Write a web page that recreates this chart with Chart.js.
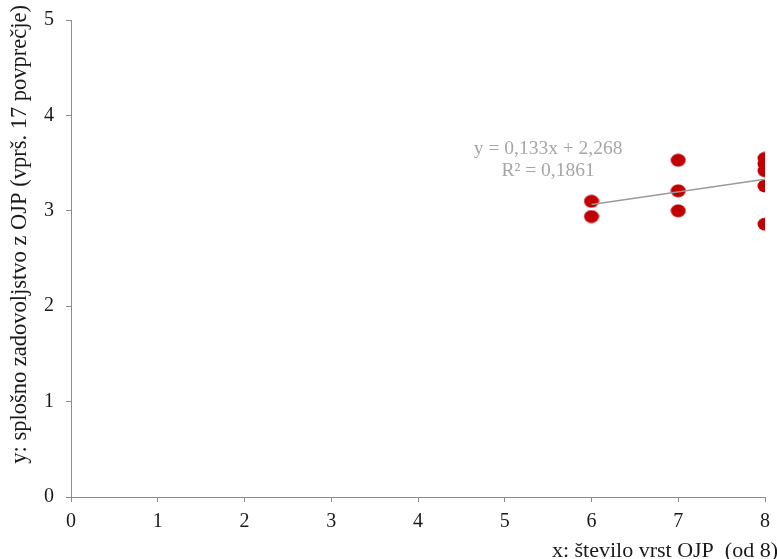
<!DOCTYPE html>
<html>
<head>
<meta charset="utf-8">
<script src="https://cdn.jsdelivr.net/npm/chart.js@4/dist/chart.umd.min.js"></script>
<style>
	body { margin: 0; background: #ffffff; }
	#wrap { width: 777px; height: 559px; }
</style>
</head>
<body>
<div id="wrap"><canvas id="scatterChart" width="777" height="559"></canvas></div>
<script>
// x: number of OJP types (of 8), y: overall satisfaction (avg. of q.17)
const xValues = [6, 6, 7, 7, 7, 8, 8, 8, 8, 8];
const yValues = [3.10, 2.94, 3.53, 3.21, 3.00, 3.55, 3.49, 3.42, 3.26, 2.86];

// linear trend line endpoints (y = 0,133x + 2,268)
const trendX = [6, 8];
const trendY = [3.066, 3.332];

const xTitle = 'x: število vrst OJP  (od 8)';
const yTitle = 'y: splošno zadovoljstvo z OJP (vprš. 17 povprečje)';
const trendLabel = ['y = 0,133x + 2,268', 'R² = 0,1861'];

const axisGray = '#8c8c8c';
const serif = '"Liberation Serif", "DejaVu Serif", serif';

let ctx = document.getElementById('scatterChart').getContext('2d');

// slightly wide oval marker, like the original
let dot = document.createElement('canvas');
dot.width = 16;
dot.height = 14;
let dctx = dot.getContext('2d');
dctx.fillStyle = '#c00000';
dctx.beginPath();
dctx.ellipse(8, 7, 7.5, 6.4, 0, 0, Math.PI * 2);
dctx.fill();

// titles and trend label drawn on the canvas
const textPlugin = {
	id: 'textPlugin',
	afterDraw(chart) {
		let c = chart.ctx;
		let xs = chart.scales.x;
		let ys = chart.scales.y;
		c.save();
		c.fillStyle = '#1a1a1a';
		c.font = '22px ' + serif;
		// x title, right aligned at the bottom
		c.textAlign = 'right';
		c.textBaseline = 'alphabetic';
		c.fillText(xTitle, 778, 557);
		// y title, rotated, starting at the top
		c.font = '22.5px ' + serif;
		c.translate(26, 5);
		c.rotate(-Math.PI / 2);
		c.textAlign = 'right';
		c.textBaseline = 'alphabetic';
		c.fillText(yTitle, 0, 0);
		c.restore();

		// trend line equation
		c.save();
		c.fillStyle = '#a6a6a6';
		c.font = '19.5px ' + serif;
		c.textAlign = 'center';
		c.textBaseline = 'middle';
		let cx = xs.getPixelForValue(5.5);
		c.fillText(trendLabel[0], cx, ys.getPixelForValue(3.65));
		c.fillText(trendLabel[1], cx, ys.getPixelForValue(3.42));
		c.restore();
	}
};

let points = xValues.map((x, i) => ({ x: x, y: yValues[i] }));
let trend = trendX.map((x, i) => ({ x: x, y: trendY[i] }));

let scatterChart = new Chart(ctx, {
	type: 'scatter',
	data: {
		datasets: [
			{
				label: 'trend',
				data: trend,
				showLine: true,
				borderColor: '#9a9a9a',
				borderWidth: 1.5,
				pointRadius: 0,
				fill: false
			},
			{
				label: 'OJP',
				data: points,
				pointStyle: dot,
				backgroundColor: '#c00000',
				borderColor: '#c00000',
				pointRadius: 8,
				pointHoverRadius: 8
			}
		]
	},
	options: {
		responsive: false,
		animation: false,
		layout: {
			padding: { top: 20, right: 12, left: 0, bottom: 0 }
		},
		plugins: {
			legend: { display: false },
			tooltip: { enabled: false }
		},
		scales: {
			x: {
				type: 'linear',
				min: 0,
				max: 8,
				afterFit: (scale) => {
					scale.height = 62;
					scale.paddingLeft = 0;
					scale.paddingRight = 0;
				},
				ticks: {
					stepSize: 1,
					padding: 8,
					color: '#1a1a1a',
					font: { family: serif, size: 20 }
				},
				grid: {
					drawOnChartArea: false,
					drawTicks: true,
					tickLength: 5,
					color: axisGray
				},
				border: { display: true, color: axisGray, width: 1 }
			},
			y: {
				min: 0,
				max: 5,
				afterFit: (scale) => {
					scale.width = 71;
					scale.paddingTop = 0;
					scale.paddingBottom = 0;
				},
				ticks: {
					stepSize: 1,
					padding: 12,
					color: '#1a1a1a',
					font: { family: serif, size: 20 }
				},
				grid: {
					drawOnChartArea: false,
					drawTicks: true,
					tickLength: 5,
					color: axisGray
				},
				border: { display: true, color: axisGray, width: 1 }
			}
		}
	},
	plugins: [textPlugin]
});
</script>
</body>
</html>
